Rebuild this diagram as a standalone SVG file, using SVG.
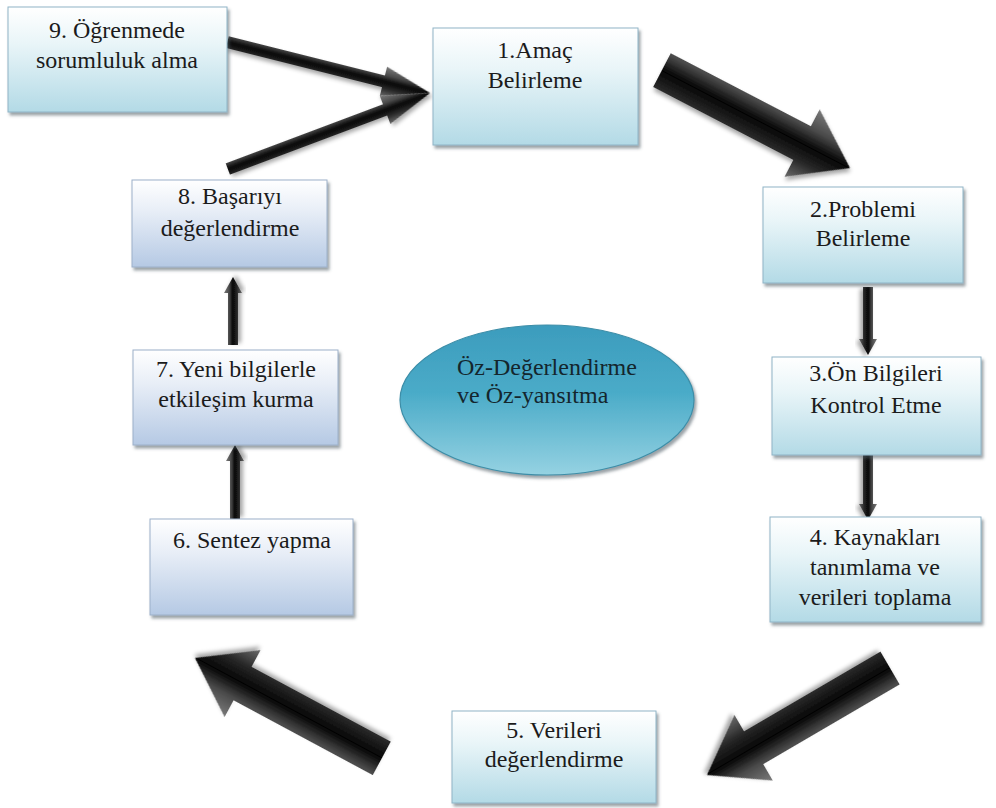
<svg xmlns="http://www.w3.org/2000/svg" width="996" height="808" viewBox="0 0 996 808">
  <defs>
    <linearGradient id="gAqua" x1="0" y1="0" x2="0" y2="1">
      <stop offset="0" stop-color="#ffffff"/>
      <stop offset="0.35" stop-color="#e9f5f8"/>
      <stop offset="1" stop-color="#b3dae6"/>
    </linearGradient>
    <linearGradient id="gSteel" x1="0" y1="0" x2="0" y2="1">
      <stop offset="0" stop-color="#ffffff"/>
      <stop offset="0.35" stop-color="#e8eef7"/>
      <stop offset="1" stop-color="#b5c9e4"/>
    </linearGradient>
    <linearGradient id="gOval" x1="0" y1="0" x2="0" y2="1">
      <stop offset="0" stop-color="#3c9cbd"/>
      <stop offset="0.45" stop-color="#4aabc8"/>
      <stop offset="1" stop-color="#95d2e2"/>
    </linearGradient>
    <linearGradient id="gArrow" x1="0" y1="0" x2="0" y2="1">
      <stop offset="0" stop-color="#7a7a7a"/>
      <stop offset="0.28" stop-color="#4a4a4a"/>
      <stop offset="0.5" stop-color="#050505"/>
      <stop offset="0.72" stop-color="#262626"/>
      <stop offset="1" stop-color="#6a6a6a"/>
    </linearGradient>
    <filter id="boxShadow" x="-10%" y="-10%" width="125%" height="130%">
      <feDropShadow dx="2" dy="3" stdDeviation="1.5" flood-color="#4a5560" flood-opacity="0.55"/>
    </filter>
    <filter id="arrowShadow" x="-20%" y="-20%" width="140%" height="140%">
      <feDropShadow dx="2" dy="3" stdDeviation="2" flood-color="#000" flood-opacity="0.35"/>
    </filter>
    <!-- block arrows drawn pointing along +x with the tip at the origin -->
    <path id="bigArrow" d="M -212,-19 L -54,-19 L -54,-38 L 0,0 L -54,38 L -54,19 L -212,19 Z"/>
  </defs>
  <style>
    .box { stroke: #8fb4c6; stroke-width: 1; filter: url(#boxShadow); }
    .aqua { fill: url(#gAqua); }
    .steel { fill: url(#gSteel); stroke: #9cb0c9; }
    text { font-family: 'Liberation Serif', 'Times New Roman', serif; font-size: 24px; }
    .lbl { fill: #1b1b1b; text-anchor: middle; }
    .oval-lbl { fill: #14262d; }
    .arr { fill: url(#gArrow); filter: url(#arrowShadow); }
  </style>
  <rect width="996" height="808" fill="#ffffff"/>

  <!-- connectors -->
  <g id="connectors">
    <!-- 9 -> 1 and 8 -> 1 (slim arrows) -->
    <path class="arr" transform="translate(430,93) rotate(14.1)" d="M -209,-6 L -48,-6 L -48,-15 L 0,0 L -48,15 L -48,6 L -209,6 Z"/>
    <path class="arr" transform="translate(430,93) rotate(-20.6)" d="M -216,-6 L -48,-6 L -48,-15 L 0,0 L -48,15 L -48,6 L -216,6 Z"/>
    <!-- 1 -> 2 -->
    <use class="arr" href="#bigArrow" transform="translate(850,168) rotate(27.5)"/>
    <!-- 2 -> 3 -->
    <path class="arr" transform="translate(868,355) rotate(90)" d="M -68,-5 L -16,-5 L -16,-9 L 0,0 L -16,9 L -16,5 L -68,5 Z"/>
    <!-- 3 -> 4 -->
    <path class="arr" transform="translate(868,520) rotate(90)" d="M -65,-5 L -16,-5 L -16,-9 L 0,0 L -16,9 L -16,5 L -65,5 Z"/>
    <!-- 4 -> 5 -->
    <use class="arr" href="#bigArrow" transform="translate(707,775) rotate(149.7)"/>
    <!-- 5 -> 6 -->
    <use class="arr" href="#bigArrow" transform="translate(195,658) rotate(208.25)"/>
    <!-- 6 -> 7 -->
    <path class="arr" transform="translate(235,445) rotate(-90)" d="M -74,-5 L -16,-5 L -16,-9 L 0,0 L -16,9 L -16,5 L -74,5 Z"/>
    <!-- 7 -> 8 -->
    <path class="arr" transform="translate(233,277) rotate(-90)" d="M -68,-5 L -16,-5 L -16,-9 L 0,0 L -16,9 L -16,5 L -68,5 Z"/>
  </g>

  <g id="step1">
    <rect class="box aqua" x="433" y="28" width="205" height="117"/>
    <text class="lbl" x="535" y="58">1.Amaç</text>
    <text class="lbl" x="535" y="88">Belirleme</text>
  </g>
  <g id="step2">
    <rect class="box aqua" x="763" y="187" width="200" height="96"/>
    <text class="lbl" x="863" y="217">2.Problemi</text>
    <text class="lbl" x="863" y="246">Belirleme</text>
  </g>
  <g id="step3">
    <rect class="box aqua" x="772" y="357" width="209" height="98"/>
    <text class="lbl" x="876" y="381">3.Ön Bilgileri</text>
    <text class="lbl" x="876" y="413">Kontrol Etme</text>
  </g>
  <g id="step4">
    <rect class="box aqua" x="770" y="517" width="211" height="105"/>
    <text class="lbl" x="875" y="545">4. Kaynakları</text>
    <text class="lbl" x="875" y="575">tanımlama ve</text>
    <text class="lbl" x="875" y="605">verileri toplama</text>
  </g>
  <g id="step5">
    <rect class="box aqua" x="452" y="711" width="204" height="92"/>
    <text class="lbl" x="554" y="738">5. Verileri</text>
    <text class="lbl" x="554" y="767">değerlendirme</text>
  </g>
  <g id="step6">
    <rect class="box steel" x="150" y="519" width="203" height="96"/>
    <text class="lbl" x="252" y="548">6. Sentez yapma</text>
  </g>
  <g id="step7">
    <rect class="box steel" x="133" y="350" width="205" height="95"/>
    <text class="lbl" x="236" y="377">7. Yeni bilgilerle</text>
    <text class="lbl" x="236" y="407">etkileşim kurma</text>
  </g>
  <g id="step8">
    <rect class="box steel" x="132" y="180" width="195" height="87"/>
    <text class="lbl" x="230" y="204">8. Başarıyı</text>
    <text class="lbl" x="230" y="236">değerlendirme</text>
  </g>
  <g id="step9">
    <rect class="box aqua" x="8" y="7" width="219" height="105"/>
    <text class="lbl" x="117" y="38">9. Öğrenmede</text>
    <text class="lbl" x="117" y="68">sorumluluk alma</text>
  </g>

  <g id="center">
    <ellipse cx="547" cy="400" rx="147" ry="75" fill="url(#gOval)" stroke="#3d8ea8" stroke-width="1.2" filter="url(#boxShadow)"/>
    <text class="oval-lbl" x="457" y="375">Öz-Değerlendirme</text>
    <text class="oval-lbl" x="457" y="403">ve Öz-yansıtma</text>
  </g>
</svg>
